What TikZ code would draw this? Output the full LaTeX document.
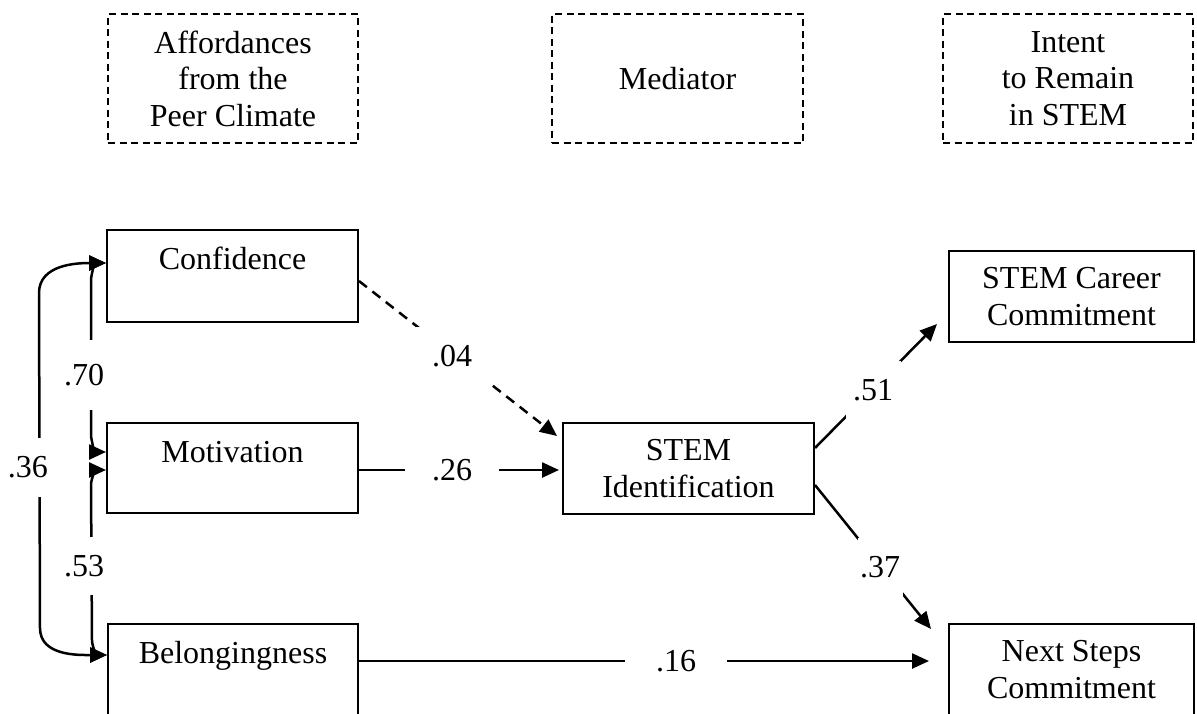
\documentclass[tikz,border=0pt]{standalone}
\usepackage{fontspec}
\setmainfont{Liberation Serif}
\usetikzlibrary{arrows.meta}
\begin{document}
\begin{tikzpicture}[x=1pt,y=-1pt,
  every node/.style={font=\fontsize{32}{36.5}\selectfont},
  dbox/.style={draw, dash pattern=on 7pt off 4.5pt, line width=2pt, inner sep=0pt, align=center},
  sbox/.style={draw, line width=2pt, inner sep=0pt, align=center},
  txt/.style={inner sep=0pt, align=center},
  lbl/.style={fill=white, inner sep=0pt},
  arr/.style={line width=2.5pt, -{Triangle[length=17pt,width=15pt]}},
  darr/.style={arr, dash pattern=on 10pt off 7pt},
  corr/.style={line width=2.5pt, {Triangle[length=17pt,width=15pt]}-{Triangle[length=17pt,width=15pt]}}
]
\useasboundingbox (0,0) rectangle (1197,713);

% header boxes
\node[dbox, minimum width=250pt, minimum height=129pt] (aff) at (233,78.5) {Affordances\\from the\\Peer Climate};
\node[dbox, minimum width=251pt, minimum height=129pt] (med) at (677.5,78.5) {Mediator};
\node[dbox, minimum width=250pt, minimum height=129pt] (int) at (1068,78.5) {Intent\\to Remain\\in STEM};

% left boxes
\node[sbox, minimum width=251pt, minimum height=92pt] (conf) at (232.5,276) {};
\node[txt, anchor=base] (conft) at ([yshift=-40pt]conf.north) {Confidence};
\node[sbox, minimum width=251pt, minimum height=90pt] (mot) at (232.5,468) {};
\node[txt, anchor=base] (mott) at ([yshift=-40pt]mot.north) {Motivation};
\node[sbox, minimum width=250pt, minimum height=91pt] (bel) at (233,669.5) {};
\node[txt, anchor=base] (belt) at ([yshift=-40pt]bel.north) {Belongingness};

% mediator and outcomes
\node[sbox, minimum width=251pt, minimum height=91pt] (stem) at (688.5,468.5) {STEM\\Identification};
\node[sbox, minimum width=245pt, minimum height=91pt] (car) at (1071.5,296.5) {STEM Career\\Commitment};
\node[sbox, minimum width=245pt, minimum height=91pt] (nxt) at (1071.5,669.5) {Next Steps\\Commitment};

% attachment points
\coordinate (c1) at ([yshift=13pt]conf.west);
\coordinate (m1) at ([yshift=16pt]mot.west);
\coordinate (m2) at ([yshift=-2pt]mot.west);
\coordinate (b1) at ([yshift=14.5pt]bel.west);

% correlations
\draw[corr] (c1) to[out=180,in=90] ++(-15,18) -- ([xshift=-15pt,yshift=18pt]m1) to[out=-90,in=180] (m1);
\draw[corr] (m2) to[out=180,in=90] ++(-15,15) -- ([xshift=-15pt,yshift=15pt]b1) to[out=-90,in=180] (b1);
\draw[corr] (c1) to[out=180,in=90] ++(-67,30) -- ([xshift=-67pt,yshift=27pt]b1) to[out=-90,in=180] (b1);

% paths
\draw[darr] ([yshift=-5pt]conf.east) -- ([xshift=-5pt,yshift=-14pt]stem.north west);
\draw[arr] ([yshift=-2pt]mot.east) -- ([xshift=-3pt,yshift=-1.5pt]stem.west);
\draw[arr] ([yshift=20.5pt]stem.east) -- ([xshift=-11pt,yshift=19pt]car.south west);
\draw[arr] ([yshift=-16.5pt]stem.east) -- ([xshift=-17pt,yshift=-6pt]nxt.north west);
\draw[arr] ([yshift=8.5pt]bel.east) -- ([xshift=-19pt,yshift=8.5pt]nxt.west);

% coefficient labels
\node[lbl, minimum width=42pt, minimum height=70pt] (l70) at (84,375) {.70};
\node[lbl, minimum width=42pt, minimum height=58pt] (l53) at (84,566) {.53};
\node[lbl, minimum width=40pt, minimum height=59pt] (l36) at (28,467) {.36};
\node[lbl, minimum width=72pt, minimum height=58pt] (l04) at (452,356) {.04};
\node[lbl, minimum width=94pt, minimum height=30pt] (l26) at (452,470) {.26};
\node[lbl, minimum width=55pt, minimum height=58pt] (l51) at (873,390) {.51};
\node[lbl, minimum width=45pt, minimum height=59pt] (l37) at (880,567) {.37};
\node[lbl, minimum width=102pt, minimum height=30pt] (l16) at (676,661) {.16};
\end{tikzpicture}
\end{document}
